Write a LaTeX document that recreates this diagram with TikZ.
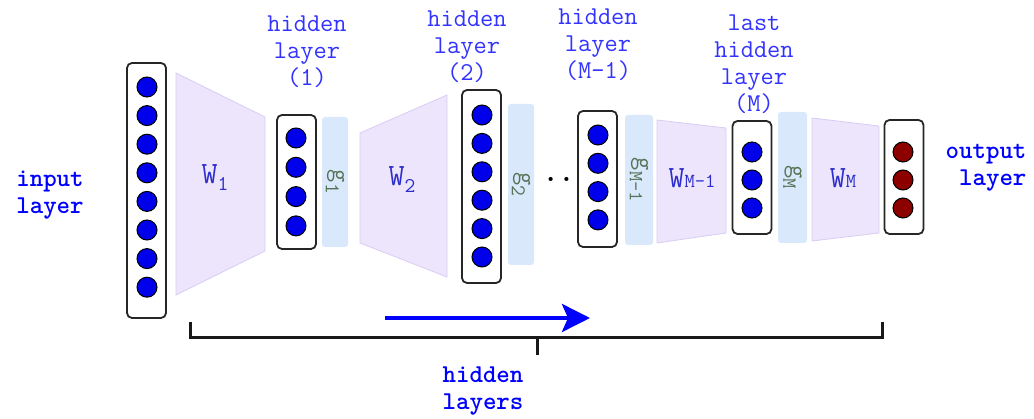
\documentclass[tikz,border=0pt]{standalone}
\usepackage{fontspec}
\usepackage{xcolor}
\usepackage{tikz}
\usetikzlibrary{arrows.meta,positioning,calc}

\definecolor{lblblue}{RGB}{51,51,255}
\definecolor{wblue}{RGB}{45,45,205}
\definecolor{ggreen}{RGB}{85,115,85}
\definecolor{wfill}{RGB}{236,229,251}
\definecolor{wline}{RGB}{218,204,244}
\definecolor{gfill}{RGB}{218,232,252}
\definecolor{unitblue}{RGB}{0,0,235}
\definecolor{unitred}{RGB}{140,0,0}

\newcommand{\lowsub}[1]{\raisebox{-7pt}{\fontsize{21}{21}\selectfont #1}}
\newcommand{\smallsub}[1]{{\fontsize{20}{20}\selectfont #1}}

\begin{document}
\begin{tikzpicture}[x=1pt,y=-1pt,>=Stealth,
  font=\ttfamily\fontsize{25.7}{27}\selectfont,
  layerbox/.style={draw=black!85,line width=1.8pt,rounded corners=5pt,fill=white,minimum width=39pt},
  unit/.style={circle,draw=black,line width=1pt,fill=unitblue,minimum size=20pt,inner sep=0pt},
  outunit/.style={unit,fill=unitred},
  weights/.style={draw=wline,fill=wfill,line width=0.8pt},
  actbox/.style={fill=gfill,rounded corners=3pt,inner sep=0pt,rotate=-90,text=ggreen},
  wlabel/.style={text=wblue,font=\ttfamily\fontsize{31}{31}\selectfont},
  hlabel/.style={text=lblblue,align=center},
  iolabel/.style={text=blue,font=\ttfamily\bfseries\fontsize{25.7}{27}\selectfont}]
\useasboundingbox (0,0) rectangle (1034,419);
% weights
\draw[weights] (176,73) -- (265,117) -- (265,251) -- (176,295) -- cycle;
\draw[weights] (360,133) -- (447,95) -- (447,277) -- (360,243) -- cycle;
\draw[weights] (657,120) -- (726,128) -- (726,233) -- (657,243) -- cycle;
\draw[weights] (812,118) -- (879,126) -- (879,233) -- (812,241) -- cycle;
\node[wlabel] (w1) at (215,178) {W\lowsub{1}};
\node[wlabel] (w2) at (402,180) {W\lowsub{2}};
\node[wlabel] (wm1) at (692,178) {W\smallsub{M-1}};
\node[wlabel] (wm) at (843,178) {W\smallsub{M}};
% activations
\node[actbox,minimum width=130pt,minimum height=26pt] (g1) at (335,182) {g\lowsub{1}};
\node[actbox,minimum width=161pt,minimum height=26pt] (g2) at (521,184.5) {g\lowsub{2}};
\node[actbox,minimum width=130pt,minimum height=28pt] (gm1) at (639,180) {g\lowsub{\smallsub{M-1}}};
\node[actbox,minimum width=131pt,minimum height=29pt] (gm) at (792.5,177.5) {g\lowsub{\smallsub{M}}};
% layers
\node[layerbox,minimum height=255pt] (in) at (146.5,190.5) {};
\node[layerbox,minimum height=134pt] (h1) at (296.5,182) {};
\node[layerbox,minimum height=193pt] (h2) at (481.5,186.5) {};
\node[layerbox,minimum height=136pt] (hm1) at (597.5,179) {};
\node[layerbox,minimum height=113pt] (hm) at (752,177.5) {};
\node[layerbox,minimum height=114pt] (out) at (904,177) {};
\foreach \i in {1,...,8} \node[unit] (in\i) at (147,{87+(\i-1)*28.6}) {};
\foreach \i in {1,...,4} \node[unit] (ha\i) at (296,{138+(\i-1)*29.3}) {};
\foreach \i in {1,...,6} \node[unit] (hb\i) at (482,{115+(\i-1)*28.4}) {};
\foreach \i in {1,...,4} \node[unit] (hc\i) at (598,{135+(\i-1)*28.3}) {};
\foreach \i in {1,...,3} \node[unit] (hd\i) at (752,{152+(\i-1)*28}) {};
\foreach \i in {1,...,3} \node[outunit] (o\i) at (903,{152+(\i-1)*28}) {};
\node[anchor=base,font=\ttfamily\bfseries\fontsize{30}{30}\selectfont] (dots) at (558.5,182) {..};
% labels
\node[iolabel,align=left] (inlbl) at (50,195) {input\\layer};
\node[iolabel,align=right] (outlbl) at (986,168) {output\\layer};
\node[hlabel] (h1lbl) at (307,52) {hidden\\layer\\(1)};
\node[hlabel] (h2lbl) at (467,47) {hidden\\layer\\(2)};
\node[hlabel] (hm1lbl) at (598,45) {hidden\\layer\\(M-1)};
\node[hlabel] (hmlbl) at (754,64.5) {last\\hidden\\layer\\(M)};
% bracket and direction
\coordinate (bl) at (190,322);
\coordinate (br) at (882,322);
\draw[line width=3pt,black!90] (bl) -- ++(0,16) -| (br);
\draw[line width=3pt,black!90] (537,338) -- ++(0,17);
\node[iolabel,align=center] (hidlbl) at (483,391) {hidden\\layers};
\coordinate (arrs) at (385,318);
\coordinate (arre) at (590,318);
\draw[blue,line width=4pt,-{Stealth[length=28pt,width=28pt,inset=6pt]}] (arrs) -- (arre);
\end{tikzpicture}
\end{document}
